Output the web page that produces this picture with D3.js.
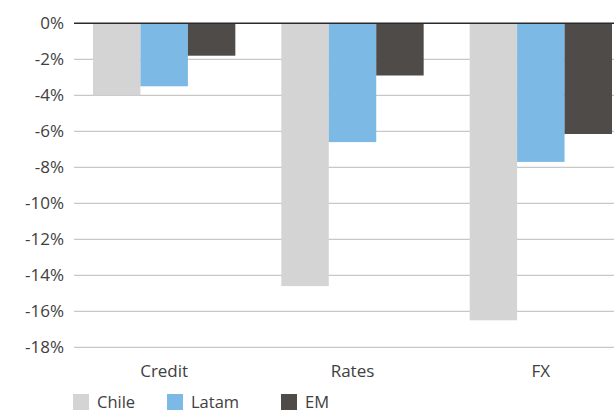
<!DOCTYPE html>
<html>
<head>
<meta charset="utf-8">
<script src="https://cdn.jsdelivr.net/npm/d3@7"></script>
<style>
  body { margin: 0; background: #fff; }
  svg text { font-family: "Open Sans", "Noto Sans", sans-serif; fill: #404040; }
</style>
</head>
<body>
<svg id="chart"></svg>
<script>
var categories = ['Credit', 'Rates', 'FX']
var seriesNames = ['Chile', 'Latam', 'EM']
var chileValues = [-4.0, -14.6, -16.5]
var latamValues = [-3.5, -6.6, -7.7]
var emValues = [-1.8, -2.9, -6.15]
var yTicks = [0, -2, -4, -6, -8, -10, -12, -14, -16, -18]
var colors = ['#d4d4d4', '#7cb9e4', '#4f4b48']

var width = 614, height = 412
var svg = d3.select('#chart').attr('width', width).attr('height', height)

var gridLeft = 74
var yScale = d3.scaleLinear().domain([0, -18]).range([23.3, 347.3])
var xScale = d3.scaleBand().domain(categories).range([70, 635]).paddingInner(0).paddingOuter(0)
var innerPad = 23
var seriesScale = d3.scaleBand().domain(seriesNames)
    .range([innerPad, xScale.bandwidth() - innerPad])

var table = categories.map(function (c, i) {
    return {cat: c, values: [chileValues[i], latamValues[i], emValues[i]]}
})

// gridlines
svg.append('g').selectAll('line')
    .data(yTicks.filter(function (d) { return d !== 0 }))
    .enter().append('line')
    .attr('x1', gridLeft).attr('x2', width)
    .attr('y1', function (d) { return yScale(d) })
    .attr('y2', function (d) { return yScale(d) })
    .attr('stroke', '#c8c8c8').attr('stroke-width', 1.2)

// y tick labels
svg.append('g').selectAll('text')
    .data(yTicks)
    .enter().append('text')
    .attr('x', 64)
    .attr('y', function (d) { return yScale(d) })
    .attr('dy', '0.35em')
    .attr('text-anchor', 'end')
    .style('font-size', '17px')
    .text(function (d) { return d + '%' })

// bars
var groups = svg.append('g').selectAll('g')
    .data(table)
    .enter().append('g')
    .attr('transform', function (d) { return 'translate(' + xScale(d.cat) + ',0)' })

groups.selectAll('rect')
    .data(function (d) { return d.values.map(function (v, j) { return {name: seriesNames[j], value: v, idx: j} }) })
    .enter().append('rect')
    .attr('x', function (d) { return seriesScale(d.name) })
    .attr('width', seriesScale.bandwidth())
    .attr('y', yScale(0))
    .attr('height', function (d) { return yScale(d.value) - yScale(0) })
    .attr('fill', function (d) { return colors[d.idx] })

// zero line
svg.append('line')
    .attr('x1', gridLeft).attr('x2', width)
    .attr('y1', yScale(0)).attr('y2', yScale(0))
    .attr('stroke', '#2b2b2b').attr('stroke-width', 1.5)

// category labels
svg.append('g').selectAll('text')
    .data(categories)
    .enter().append('text')
    .attr('x', function (d) { return xScale(d) + xScale.bandwidth() / 2 })
    .attr('y', 371)
    .attr('dy', '0.35em')
    .attr('text-anchor', 'middle')
    .style('font-size', '17px')
    .text(function (d) { return d })

// legend
var legendX = [73, 167, 281]
var legend = svg.append('g').selectAll('g')
    .data(seriesNames)
    .enter().append('g')
    .attr('transform', function (d, i) { return 'translate(' + legendX[i] + ',394)' })
legend.append('rect')
    .attr('width', 16).attr('height', 16)
    .attr('fill', function (d, i) { return colors[i] })
legend.append('text')
    .attr('x', 24).attr('y', 14)
    .style('font-size', '16.5px')
    .text(function (d) { return d })
</script>
</body>
</html>
